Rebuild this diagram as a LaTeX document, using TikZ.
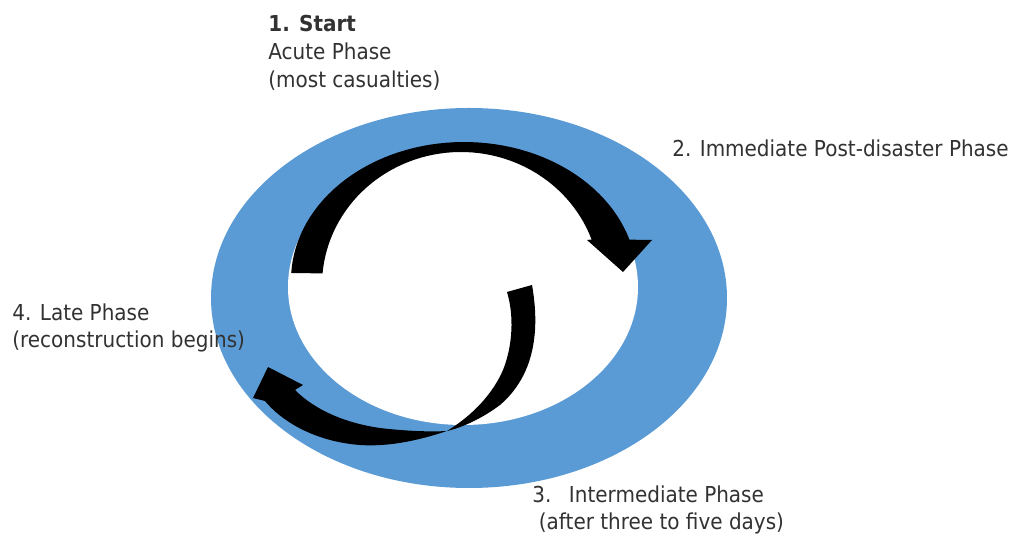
\documentclass[tikz,border=0pt]{standalone}
\usepackage{fontspec}
\setmainfont[FakeStretch=0.91]{DejaVu Sans}
\usepackage{tikz}

\definecolor{ringblue}{RGB}{91,155,213}
\definecolor{labelgray}{RGB}{50,50,50}

\tikzset{
    phase/.style={inner sep=0pt, text=labelgray, align=left, font=\fontsize{12.5}{15.8}\selectfont}
}

\begin{document}
\begin{tikzpicture}[x=0.02cm, y=-0.02cm]
    \useasboundingbox (0,0) rectangle (1011,536);

    % Blue ring with the white hole
    \fill[ringblue] (469,298) ellipse [x radius=258, y radius=190];
    \fill[white] (463,287) ellipse [x radius=175, y radius=138];

    % Upper arrow (acute -> immediate)
    \fill[black] (291,273)
        -- plot[domain=177:17, samples=60] ({464+173*cos(\x)},{280-138*sin(\x)})
        -- (652,240) -- (623,272) -- (587,240)
        -- plot[domain=20:175, samples=60] ({461+139*cos(\x)},{285-133*sin(\x)})
        -- cycle;

    % Lower twisted arrow (intermediate -> late)
    \fill[black] (507,292) -- (532,285)
        .. controls (540,330) and (535,375) .. (500,405)
        .. controls (480,420) and (460,428) .. (447,431)
        .. controls (420,440) and (390,447) .. (360,445)
        .. controls (320,442) and (285,425) .. (265,401)
        -- (253,398) -- (268,367) -- (303,385) -- (295,390)
        .. controls (315,410) and (345,423) .. (380,428)
        .. controls (405,431) and (430,432) .. (447,431)
        .. controls (465,420) and (490,400) .. (503,370)
        .. controls (513,345) and (514,315) .. (507,292)
        -- cycle;

    % Labels
    \node[phase, anchor=north west] (start) at (268,15)
        {\textbf{1. Start}\\Acute Phase\\(most casualties)};
    \node[phase, anchor=base west] (immediate) at (672,157)
        {2. Immediate Post-disaster Phase};
    \node[phase, anchor=north west] (intermediate) at (532,485)
        {3.\hspace{0.8em}Intermediate Phase\\\hspace{0.3em}(after three to five days)};
    \node[phase, anchor=north west] (late) at (12,303)
        {4. Late Phase\\(reconstruction begins)};
\end{tikzpicture}
\end{document}
